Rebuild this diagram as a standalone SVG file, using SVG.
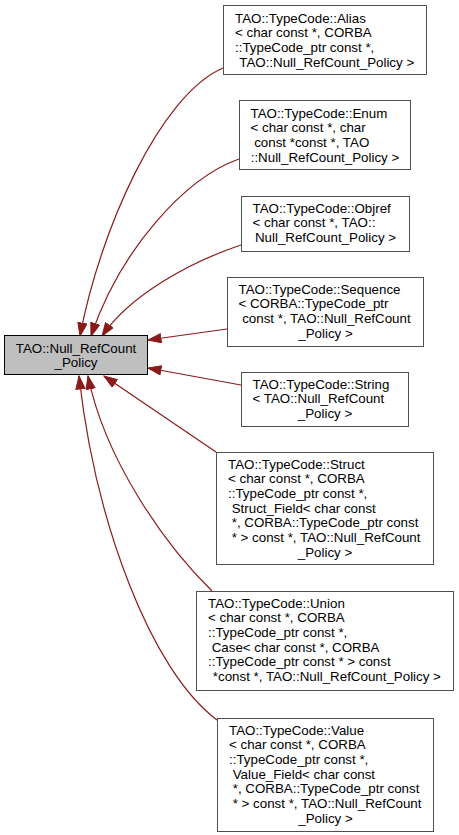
<svg xmlns="http://www.w3.org/2000/svg" width="459" height="835" viewBox="0 0 459 835" xml:space="preserve">
<style>
.n rect{fill:#ffffff;stroke:#505050;stroke-width:1}
.n.cur rect{fill:#bfbfbf;stroke:#000000}
text{font-family:"Liberation Sans",Arial,Helvetica,sans-serif;font-size:13.33px;fill:#000000;white-space:pre}
.m{text-anchor:middle}
.e path{fill:none;stroke:#8b1a1a;stroke-width:1.2;marker-end:url(#ah)}
</style>
<defs>
<marker id="ah" markerUnits="userSpaceOnUse" markerWidth="15" markerHeight="11" refX="13.5" refY="5" orient="auto">
<path d="M0.5,0.4 L13.5,5 L0.5,9.6 z" fill="#8b1a1a" stroke="#8b1a1a" stroke-width="1"/>
</marker>
</defs>
<g id="connectors" class="e">
<path d="M223,68 C160,95 100,230 80,336"/>
<path d="M239,159 C185,178 120,250 91,336"/>
<path d="M241,245 C190,262 130,295 102,336"/>
<path d="M227,329 L148,340"/>
<path d="M241,385 L148,368"/>
<path d="M216,452 L104,376"/>
<path d="M212,591 C165,545 105,460 88,376"/>
<path d="M217,720 C150,670 95,520 79,376"/>
</g>
<g id="node-null-refcount-policy" class="n cur">
<rect x="4.5" y="335.5" width="143" height="39"/>
<text class="m" x="76" y="352.7">TAO::Null_RefCount</text>
<text class="m" x="76" y="367.3">_Policy</text>
</g>
<g id="node-alias" class="n">
<rect x="223.5" y="5.5" width="203" height="69"/>
<text x="235" y="22.7">TAO::TypeCode::Alias</text>
<text x="235" y="37.3">&lt; char const *, CORBA</text>
<text x="235" y="52">::TypeCode_ptr const *,</text>
<text class="m" x="325" y="66.7"> TAO::Null_RefCount_Policy &gt;</text>
</g>
<g id="node-enum" class="n">
<rect x="239.5" y="100.5" width="171" height="69"/>
<text x="250.5" y="117.7">TAO::TypeCode::Enum</text>
<text x="250.5" y="132.3">&lt; char const *, char</text>
<text x="250.5" y="147"> const *const *, TAO</text>
<text class="m" x="325" y="161.7">::Null_RefCount_Policy &gt;</text>
</g>
<g id="node-objref" class="n">
<rect x="241.5" y="196.5" width="168" height="55"/>
<text x="252.5" y="212.7">TAO::TypeCode::Objref</text>
<text x="252.5" y="227.3">&lt; char const *, TAO::</text>
<text class="m" x="325.5" y="242">Null_RefCount_Policy &gt;</text>
</g>
<g id="node-sequence" class="n">
<rect x="227.5" y="277.5" width="196" height="69"/>
<text x="238.5" y="293.7">TAO::TypeCode::Sequence</text>
<text x="238.5" y="308.3">&lt; CORBA::TypeCode_ptr</text>
<text x="238.5" y="323"> const *, TAO::Null_RefCount</text>
<text class="m" x="325.5" y="337.7">_Policy &gt;</text>
</g>
<g id="node-string" class="n">
<rect x="241.5" y="372.5" width="167" height="54"/>
<text x="252.5" y="388.7">TAO::TypeCode::String</text>
<text x="252.5" y="403.3">&lt; TAO::Null_RefCount</text>
<text class="m" x="325" y="418">_Policy &gt;</text>
</g>
<g id="node-struct" class="n">
<rect x="216.5" y="452.5" width="217" height="112"/>
<text x="228" y="468.7">TAO::TypeCode::Struct</text>
<text x="228" y="483.3">&lt; char const *, CORBA</text>
<text x="228" y="498">::TypeCode_ptr const *,</text>
<text x="228" y="512.7"> Struct_Field&lt; char const</text>
<text x="228" y="527.3"> *, CORBA::TypeCode_ptr const</text>
<text x="228" y="542"> * &gt; const *, TAO::Null_RefCount</text>
<text class="m" x="325" y="556.7">_Policy &gt;</text>
</g>
<g id="node-union" class="n">
<rect x="196.5" y="591.5" width="257" height="99"/>
<text x="208" y="607.7">TAO::TypeCode::Union</text>
<text x="208" y="622.3">&lt; char const *, CORBA</text>
<text x="208" y="637">::TypeCode_ptr const *,</text>
<text x="208" y="651.7"> Case&lt; char const *, CORBA</text>
<text x="208" y="666.3">::TypeCode_ptr const * &gt; const</text>
<text class="m" x="325" y="681"> *const *, TAO::Null_RefCount_Policy &gt;</text>
</g>
<g id="node-value" class="n">
<rect x="217.5" y="718.5" width="216" height="113"/>
<text x="229" y="734.7">TAO::TypeCode::Value</text>
<text x="229" y="749.3">&lt; char const *, CORBA</text>
<text x="229" y="764">::TypeCode_ptr const *,</text>
<text x="229" y="778.7"> Value_Field&lt; char const</text>
<text x="229" y="793.3"> *, CORBA::TypeCode_ptr const</text>
<text x="229" y="808"> * &gt; const *, TAO::Null_RefCount</text>
<text class="m" x="325.5" y="822.7">_Policy &gt;</text>
</g>
</svg>
